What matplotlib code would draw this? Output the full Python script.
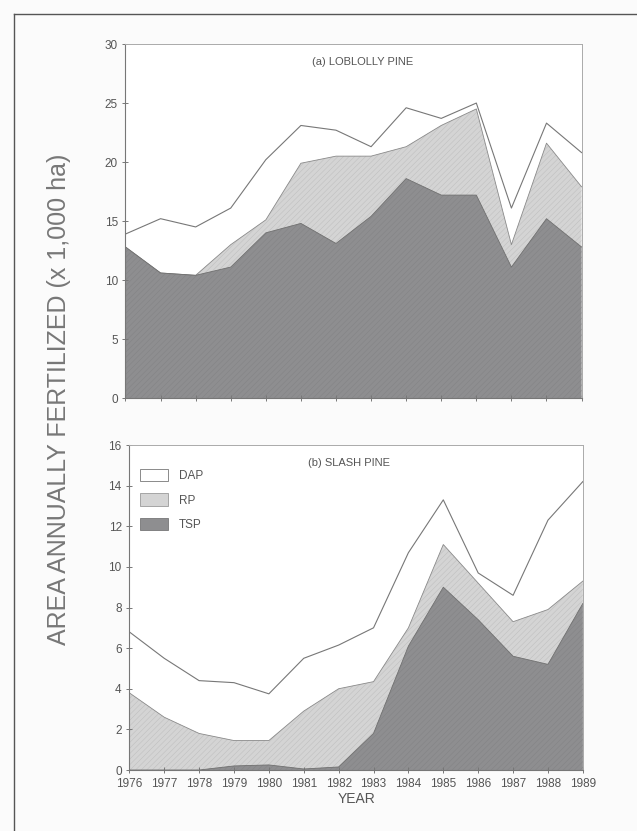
import matplotlib
matplotlib.use("Agg")
import matplotlib.pyplot as plt
from matplotlib.lines import Line2D
from matplotlib.patches import Patch
import numpy as np

plt.rcParams['font.family'] = ['Liberation Sans', 'DejaVu Sans']
plt.rcParams['hatch.linewidth'] = 0.35

years = [1976, 1977, 1978, 1979, 1980, 1981, 1982,
         1983, 1984, 1985, 1986, 1987, 1988, 1989]

# Loblolly pine, stacked totals (x 1,000 ha)
lob_tsp = [12.8, 10.6, 10.4, 11.1, 14.0, 14.8, 13.1, 15.4, 18.6, 17.2, 17.2, 11.1, 15.2, 12.8]
lob_rp_top = [12.8, 10.6, 10.4, 13.0, 15.1, 19.9, 20.5, 20.5, 21.3, 23.1, 24.5, 13.0, 21.6, 17.9]
lob_dap_top = [13.9, 15.2, 14.5, 16.1, 20.2, 23.1, 22.7, 21.3, 24.6, 23.7, 25.0, 16.1, 23.3, 20.8]

# Slash pine, stacked totals (x 1,000 ha)
sla_tsp = [0.0, 0.0, 0.0, 0.2, 0.25, 0.05, 0.15, 1.8, 6.1, 9.0, 7.4, 5.6, 5.2, 8.2]
sla_rp_top = [3.8, 2.6, 1.8, 1.45, 1.45, 2.9, 4.0, 4.35, 7.0, 11.1, 9.2, 7.3, 7.9, 9.3]
sla_dap_top = [6.8, 5.5, 4.4, 4.3, 3.75, 5.5, 6.15, 7.0, 10.7, 13.3, 9.7, 8.6, 12.3, 14.2]

panels = [
    ("(a) LOBLOLLY PINE", lob_tsp, lob_rp_top, lob_dap_top, 30, 5),
    ("(b) SLASH PINE", sla_tsp, sla_rp_top, sla_dap_top, 16, 2),
]
legend_names = ["DAP", "RP", "TSP"]

C_TSP = "#8e8e90"
C_RP = "#d4d4d4"
C_DAP = "#ffffff"
EDGE = "#777777"
TXT = "#555555"

fig = plt.figure(figsize=(6.37, 8.31), dpi=100)
fig.patch.set_facecolor("#fbfbfb")

boxes = [[0.197, 0.521, 0.716, 0.426], [0.203, 0.0734, 0.712, 0.3911]]

for i, (title, tsp, rp, dap, ymax, step) in enumerate(panels):
    ax = fig.add_axes(boxes[i])
    ax.set_facecolor("white")
    x = np.array(years)
    ax.fill_between(x, 0, dap, facecolor=C_DAP, edgecolor="none")
    ax.fill_between(x, 0, rp, facecolor=C_RP, edgecolor="#bdbdbd", hatch="//////", lw=0)
    ax.fill_between(x, 0, tsp, facecolor=C_TSP, edgecolor="#828284", hatch="//////", lw=0)
    ax.plot(x, dap, color=EDGE, lw=0.8)
    ax.plot(x, rp, color="#8a8a8a", lw=0.6)
    ax.plot(x, tsp, color="#707070", lw=0.6)
    ax.set_xlim(1976, 1989)
    ax.set_ylim(0, ymax)
    ax.set_xticks(years)
    ax.set_yticks(np.arange(0, ymax + 1, step))
    ax.tick_params(axis="both", colors="#777777", labelcolor=TXT, labelsize=8.5,
                   length=4, width=0.7, direction="inout")
    if i == 0:
        ax.set_xticklabels([])
    else:
        ax.set_xlabel("YEAR", fontsize=10, color=TXT, labelpad=2)
    for side in ["left", "bottom"]:
        ax.spines[side].set_color("#777777")
        ax.spines[side].set_linewidth(0.8)
    for side in ["top", "right"]:
        ax.spines[side].set_color("#aaaaaa")
        ax.spines[side].set_linewidth(0.7)
    ax.text(0.52 if i == 0 else 0.485, 0.95 if i == 0 else 0.945, title,
            transform=ax.transAxes, ha="center", va="center", fontsize=8, color=TXT)
    if i == 1:
        handles = [Patch(facecolor=C_DAP, edgecolor=EDGE, lw=0.6),
                   Patch(facecolor=C_RP, edgecolor="#999999", lw=0.6),
                   Patch(facecolor=C_TSP, edgecolor="#777777", lw=0.6)]
        ax.legend(handles, legend_names, loc="upper left", bbox_to_anchor=(0.0, 0.96),
                  frameon=False, fontsize=8.5, labelcolor=TXT, handlelength=2.4,
                  handleheight=1.2, labelspacing=1.0, handletextpad=0.9)

fig.text(0.093, 0.519, "AREA ANNUALLY FERTILIZED (x 1,000 ha)", rotation=90,
         ha="center", va="center", fontsize=18, color="#777777")

# outer frame
fig.add_artist(Line2D([0.022, 0.022], [0.0, 0.983], color="#555555", lw=1.0))
fig.add_artist(Line2D([0.022, 1.0], [0.983, 0.983], color="#555555", lw=1.0))

fig.savefig("out.png", dpi=100, facecolor=fig.get_facecolor())
